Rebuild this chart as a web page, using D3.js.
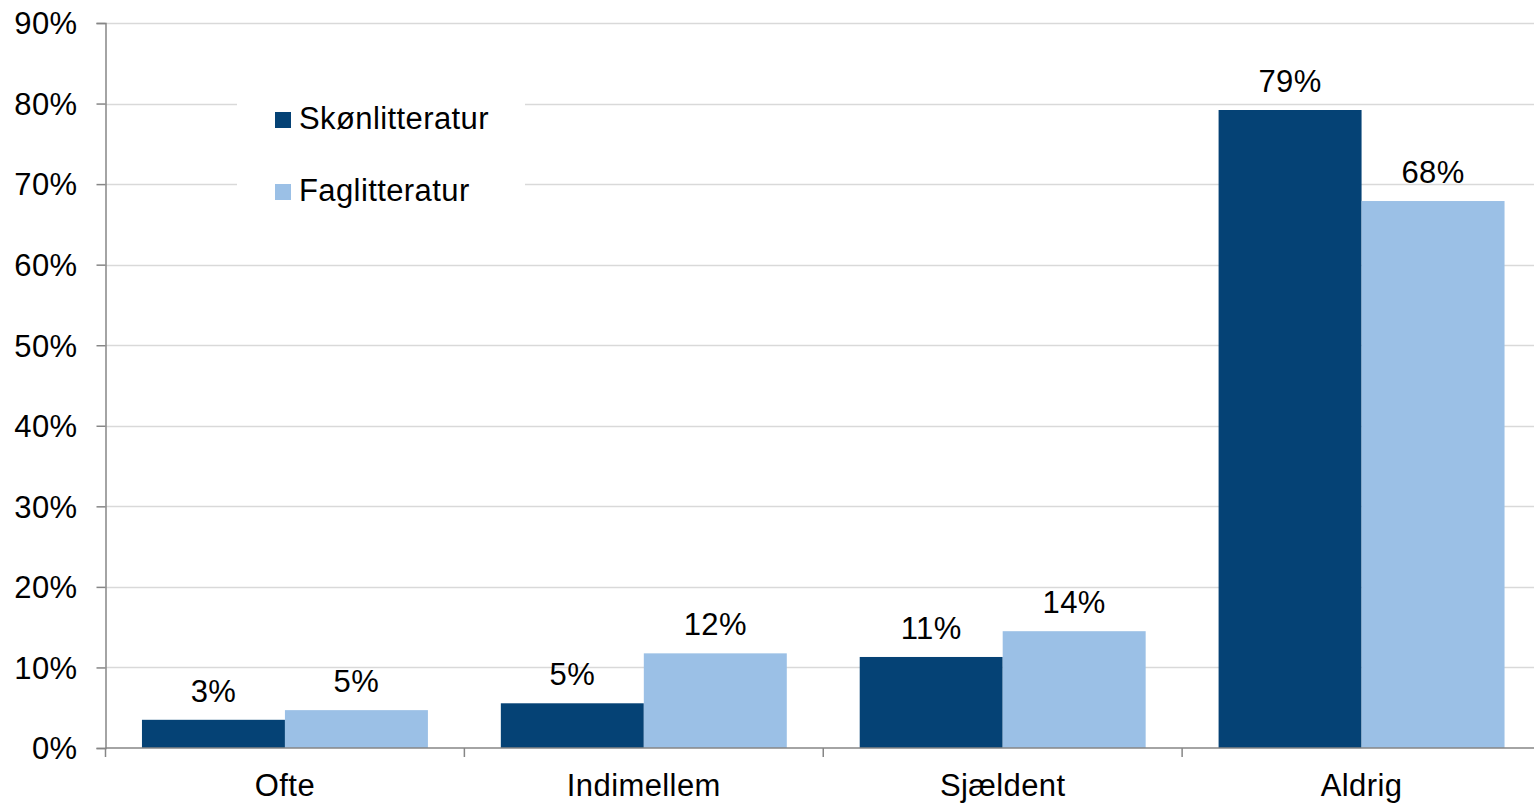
<!DOCTYPE html>
<html><head><meta charset="utf-8">
<script src="https://cdn.jsdelivr.net/npm/d3@7"></script>
<style>body{margin:0;background:#fff}svg{display:block}</style>
</head><body>
<script>
const categories = ["Ofte", "Indimellem", "Sjældent", "Aldrig"];
const seriesNames = ["Skønlitteratur", "Faglitteratur"];
const skonlitteratur = [3.5, 5.55, 11.3, 79.2];
const faglitteratur = [4.7, 11.75, 14.5, 67.9];
const skonLabels = ["3%", "5%", "11%", "79%"];
const fagLabels = ["5%", "12%", "14%", "68%"];
const yTicks = [0, 10, 20, 30, 40, 50, 60, 70, 80, 90];
const colors = ["#054275", "#9bc0e6"];

(function () {
const W = 1534, H = 803;
const svg = d3.select("body").append("svg").attr("width", W).attr("height", H);
const font = "Liberation Sans, Arial, sans-serif";
const fs = 31, ls = "0.4px";
const mLeft = 105.5, mRight = 1541, mTop = 23, mBottom = 748;

const x = d3.scaleBand().domain(categories).range([mLeft, mRight]).paddingInner(0).paddingOuter(0);
const xs = d3.scaleBand().domain(seriesNames).range([0, x.bandwidth()]).paddingInner(0).paddingOuter(0.255);
const y = d3.scaleLinear().domain([0, 90]).range([mBottom, mTop]);

// gridlines
svg.append("g").selectAll("line").data(yTicks.filter(d => d > 0)).join("line")
  .attr("x1", mLeft).attr("x2", W).attr("y1", d => Math.round(y(d)) + 0.5).attr("y2", d => Math.round(y(d)) + 0.5)
  .attr("stroke", "#d9d9d9").attr("stroke-width", 1.5);

const data = [skonlitteratur, faglitteratur];
const labels = [skonLabels, fagLabels];
seriesNames.forEach((s, si) => {
  const g = svg.append("g");
  g.selectAll("rect").data(categories).join("rect")
    .attr("x", c => x(c) + xs(s))
    .attr("width", xs.bandwidth())
    .attr("y", (c, i) => y(data[si][i]))
    .attr("height", (c, i) => y(0) - y(data[si][i]))
    .attr("fill", colors[si]);
  g.selectAll("text").data(categories).join("text")
    .attr("x", c => x(c) + xs(s) + xs.bandwidth() / 2)
    .attr("y", (c, i) => y(data[si][i]) - 18)
    .attr("text-anchor", "middle")
    .attr("font-family", font).attr("font-size", fs).attr("letter-spacing", ls).attr("fill", "#000")
    .text((c, i) => labels[si][i]);
});

// y axis
const yAxis = d3.axisLeft(y).tickValues(yTicks).tickFormat(d => d + "%").tickSize(9).tickPadding(19);
const ya = svg.append("g").attr("transform", `translate(${mLeft},0)`).call(yAxis);
ya.select(".domain").attr("stroke", "#868686").attr("stroke-width", 1.5);
ya.selectAll(".tick line").attr("stroke", "#868686").attr("stroke-width", 1.5);
ya.selectAll(".tick text").attr("font-family", font).attr("font-size", fs).attr("letter-spacing", ls).attr("fill", "#000").attr("dy", "0.35em");

// x axis
const xa = svg.append("g").attr("transform", `translate(0,${mBottom})`);
xa.append("line").attr("x1", mLeft).attr("x2", W).attr("y1", 0).attr("y2", 0).attr("stroke", "#868686").attr("stroke-width", 1.5);
const boundaries = categories.map(c => x(c)).concat([x(categories[categories.length - 1]) + x.bandwidth()]);
xa.selectAll("line.t").data(boundaries).join("line").attr("class", "t")
  .attr("x1", d => d).attr("x2", d => d).attr("y1", 0).attr("y2", 9)
  .attr("stroke", "#868686").attr("stroke-width", 1.5);
xa.selectAll("text").data(categories).join("text")
  .attr("x", c => x(c) + x.bandwidth() / 2).attr("y", 48)
  .attr("text-anchor", "middle").attr("font-family", font).attr("font-size", fs).attr("letter-spacing", ls).attr("fill", "#000")
  .text(c => c);

// legend
const lg = svg.append("g");
lg.append("rect").attr("x", 237).attr("y", 92).attr("width", 288).attr("height", 122).attr("fill", "#fff");
seriesNames.forEach((s, i) => {
  const yy = 112 + i * 72;
  lg.append("rect").attr("x", 275).attr("y", yy).attr("width", 16).attr("height", 16).attr("fill", colors[i]);
  lg.append("text").attr("x", 299).attr("y", yy + 17).attr("font-family", font).attr("font-size", fs).attr("letter-spacing", ls).attr("fill", "#000").text(s);
});
})();
</script>
</body></html>
